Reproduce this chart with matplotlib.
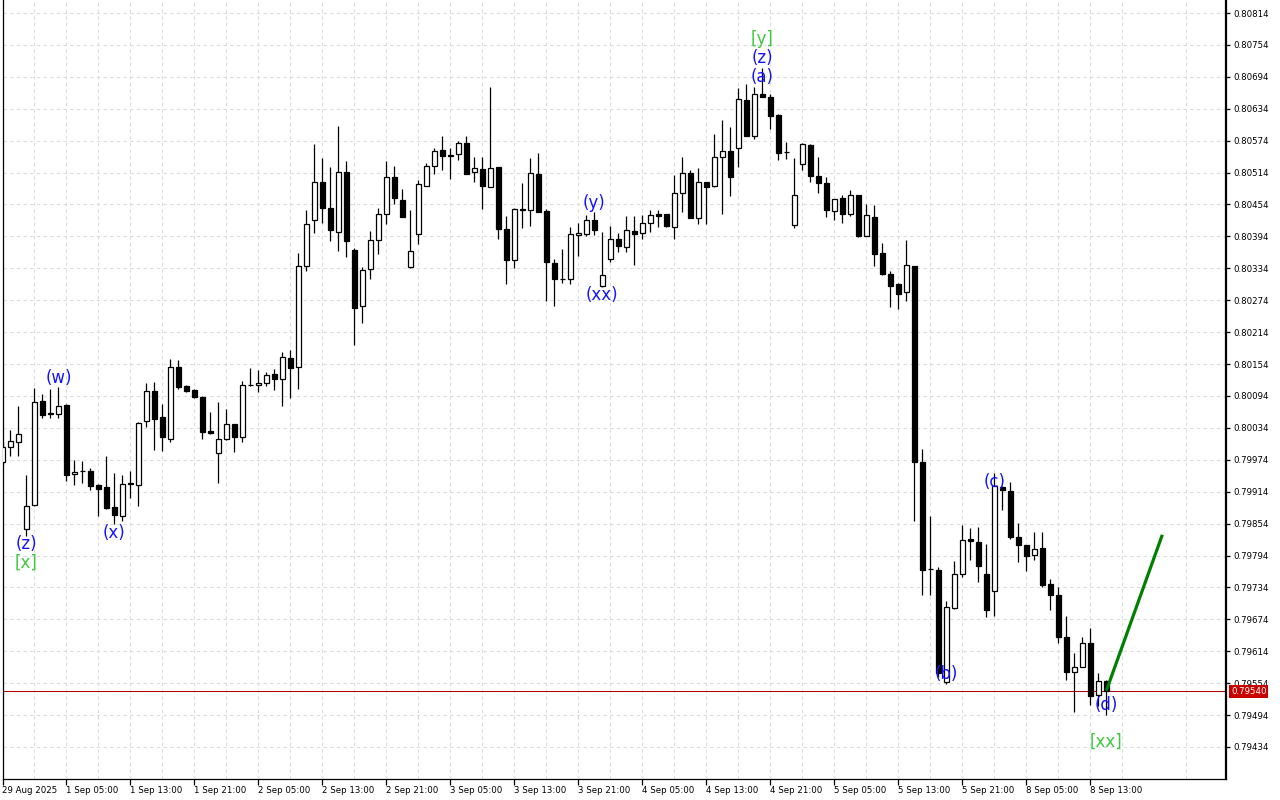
import matplotlib
matplotlib.use("Agg")
import matplotlib.pyplot as plt
import numpy as np

# ---------------- data (H1 candles, 29 Aug 2025 21:00 .. 8 Sep 2025 14:00) ----------------
opens = [0.79970, 0.79998, 0.80007, 0.79844, 0.79889, 0.80085, 0.80062, 0.80061, 0.80077, 0.79947,
         0.79953, 0.79953, 0.79927, 0.79923, 0.79885, 0.79869, 0.79930, 0.79927, 0.80046, 0.80103,
         0.80055, 0.80014, 0.80148, 0.80113, 0.80105, 0.80092, 0.80028, 0.79986, 0.80013, 0.80041,
         0.80016, 0.80114, 0.80114, 0.80118, 0.80135, 0.80125, 0.80165, 0.80148, 0.80338, 0.80424,
         0.80496, 0.80447, 0.80402, 0.80515, 0.80368, 0.80263, 0.80332, 0.80387, 0.80437, 0.80505,
         0.80462, 0.80336, 0.80398, 0.80489, 0.80526, 0.80556, 0.80547, 0.80549, 0.80569, 0.80515,
         0.80521, 0.80487, 0.80524, 0.80407, 0.80349, 0.80445, 0.80444, 0.80511, 0.80442, 0.80344,
         0.80314, 0.80313, 0.80396, 0.80398, 0.80424, 0.80300, 0.80351, 0.80389, 0.80374, 0.80404,
         0.80400, 0.80419, 0.80436, 0.80436, 0.80412, 0.80475, 0.80513, 0.80428, 0.80496, 0.80488,
         0.80543, 0.80555, 0.80561, 0.80650, 0.80583, 0.80661, 0.80656, 0.80622, 0.80553, 0.80415,
         0.80531, 0.80566, 0.80508, 0.80494, 0.80441, 0.80466, 0.80437, 0.80471, 0.80395, 0.80431,
         0.80363, 0.80323, 0.80305, 0.80289, 0.80338, 0.79970, 0.79769, 0.79766, 0.79557, 0.79696,
         0.79759, 0.79825, 0.79820, 0.79759, 0.79727, 0.79923, 0.79915, 0.79829, 0.79813, 0.79795,
         0.79808, 0.79740, 0.79720, 0.79640, 0.79575, 0.79585, 0.79629, 0.79531, 0.79559]
highs = [0.80008, 0.80030, 0.80075, 0.79945, 0.80109, 0.80098, 0.80107, 0.80111, 0.80079, 0.79974,
         0.79972, 0.79959, 0.79928, 0.79981, 0.79949, 0.79945, 0.79953, 0.80045, 0.80118, 0.80120,
         0.80079, 0.80163, 0.80162, 0.80114, 0.80107, 0.80093, 0.80064, 0.80083, 0.80069, 0.80042,
         0.80123, 0.80146, 0.80143, 0.80139, 0.80144, 0.80176, 0.80180, 0.80363, 0.80444, 0.80568,
         0.80541, 0.80525, 0.80602, 0.80536, 0.80373, 0.80336, 0.80404, 0.80447, 0.80536, 0.80526,
         0.80483, 0.80444, 0.80500, 0.80532, 0.80560, 0.80583, 0.80560, 0.80573, 0.80582, 0.80544,
         0.80544, 0.80675, 0.80525, 0.80432, 0.80448, 0.80494, 0.80541, 0.80551, 0.80445, 0.80352,
         0.80370, 0.80412, 0.80419, 0.80434, 0.80440, 0.80402, 0.80414, 0.80400, 0.80433, 0.80432,
         0.80434, 0.80444, 0.80444, 0.80437, 0.80509, 0.80543, 0.80519, 0.80523, 0.80497, 0.80587,
         0.80613, 0.80600, 0.80673, 0.80681, 0.80675, 0.80711, 0.80661, 0.80625, 0.80572, 0.80541,
         0.80570, 0.80567, 0.80543, 0.80505, 0.80465, 0.80472, 0.80481, 0.80472, 0.80455, 0.80453,
         0.80382, 0.80329, 0.80307, 0.80387, 0.80339, 0.79994, 0.79869, 0.79772, 0.79709, 0.79784,
         0.79852, 0.79846, 0.79848, 0.79815, 0.79949, 0.79924, 0.79932, 0.79855, 0.79814, 0.79838,
         0.79838, 0.79750, 0.79734, 0.79680, 0.79611, 0.79641, 0.79658, 0.79574, 0.79560]
lows = [0.79964, 0.79981, 0.79982, 0.79831, 0.79888, 0.80053, 0.80053, 0.80053, 0.79935, 0.79927,
        0.79931, 0.79918, 0.79869, 0.79882, 0.79853, 0.79859, 0.79903, 0.79888, 0.80036, 0.79993,
        0.79991, 0.80008, 0.80108, 0.80102, 0.80090, 0.80014, 0.80022, 0.79931, 0.80012, 0.79988,
        0.80008, 0.80113, 0.80101, 0.80113, 0.80106, 0.80076, 0.80091, 0.80108, 0.80328, 0.80401,
        0.80420, 0.80386, 0.80367, 0.80356, 0.80189, 0.80232, 0.80313, 0.80360, 0.80418, 0.80455,
        0.80430, 0.80335, 0.80380, 0.80488, 0.80512, 0.80519, 0.80502, 0.80537, 0.80511, 0.80496,
        0.80445, 0.80486, 0.80390, 0.80304, 0.80335, 0.80410, 0.80414, 0.80439, 0.80273, 0.80264,
        0.80306, 0.80304, 0.80358, 0.80395, 0.80397, 0.80299, 0.80346, 0.80365, 0.80365, 0.80340,
        0.80389, 0.80403, 0.80411, 0.80412, 0.80390, 0.80440, 0.80428, 0.80418, 0.80418, 0.80487,
        0.80437, 0.80469, 0.80525, 0.80582, 0.80578, 0.80656, 0.80596, 0.80537, 0.80540, 0.80409,
        0.80518, 0.80497, 0.80476, 0.80431, 0.80424, 0.80420, 0.80433, 0.80392, 0.80394, 0.80339,
        0.80321, 0.80262, 0.80258, 0.80273, 0.79858, 0.79719, 0.79719, 0.79566, 0.79553, 0.79694,
        0.79754, 0.79786, 0.79745, 0.79679, 0.79681, 0.79880, 0.79825, 0.79781, 0.79764, 0.79786,
        0.79734, 0.79692, 0.79630, 0.79560, 0.79500, 0.79584, 0.79513, 0.79512, 0.79494]
closes = [0.79998, 0.80009, 0.80022, 0.79888, 0.80083, 0.80059, 0.80061, 0.80076, 0.79946, 0.79951,
          0.79952, 0.79925, 0.79920, 0.79884, 0.79871, 0.79928, 0.79929, 0.80044, 0.80103, 0.80051,
          0.80016, 0.80148, 0.80111, 0.80104, 0.80092, 0.80026, 0.80024, 0.80013, 0.80041, 0.80016,
          0.80114, 0.80115, 0.80118, 0.80133, 0.80125, 0.80167, 0.80147, 0.80338, 0.80417, 0.80496,
          0.80447, 0.80406, 0.80515, 0.80386, 0.80260, 0.80330, 0.80387, 0.80436, 0.80505, 0.80466,
          0.80431, 0.80366, 0.80492, 0.80526, 0.80554, 0.80546, 0.80546, 0.80569, 0.80512, 0.80522,
          0.80489, 0.80522, 0.80407, 0.80349, 0.80445, 0.80444, 0.80513, 0.80440, 0.80345, 0.80313,
          0.80313, 0.80398, 0.80400, 0.80424, 0.80406, 0.80321, 0.80390, 0.80375, 0.80406, 0.80398,
          0.80419, 0.80434, 0.80433, 0.80414, 0.80475, 0.80513, 0.80429, 0.80496, 0.80487, 0.80543,
          0.80555, 0.80505, 0.80652, 0.80583, 0.80661, 0.80657, 0.80621, 0.80551, 0.80552, 0.80472,
          0.80568, 0.80508, 0.80494, 0.80443, 0.80464, 0.80437, 0.80471, 0.80395, 0.80434, 0.80360,
          0.80323, 0.80301, 0.80286, 0.80340, 0.79969, 0.79767, 0.79768, 0.79573, 0.79697, 0.79759,
          0.79823, 0.79821, 0.79775, 0.79692, 0.79925, 0.79917, 0.79828, 0.79813, 0.79794, 0.79806,
          0.79739, 0.79719, 0.79640, 0.79575, 0.79584, 0.79629, 0.79529, 0.79559, 0.79540]

time_labels = ["29 Aug 2025", "1 Sep 05:00", "1 Sep 13:00", "1 Sep 21:00", "2 Sep 05:00",
               "2 Sep 13:00", "2 Sep 21:00", "3 Sep 05:00", "3 Sep 13:00", "3 Sep 21:00",
               "4 Sep 05:00", "4 Sep 13:00", "4 Sep 21:00", "5 Sep 05:00", "5 Sep 13:00",
               "5 Sep 21:00", "8 Sep 05:00", "8 Sep 13:00"]
price_ticks = [0.79434, 0.79494, 0.79554, 0.79614, 0.79674, 0.79734, 0.79794, 0.79854, 0.79914,
               0.79974, 0.80034, 0.80094, 0.80154, 0.80214, 0.80274, 0.80334, 0.80394, 0.80454,
               0.80514, 0.80574, 0.80634, 0.80694, 0.80754, 0.80814]
last_price = 0.79540

wave_texts = ["(z)", "[x]", "(w)", "(x)", "(y)", "(xx)", "[y]", "(z)", "(a)", "(b)", "(c)", "(d)", "[xx]"]
wave_bars = [3, 3, 7, 14, 74, 75, 95, 95, 95, 118, 124, 138, 138]
wave_anchor = ["low", "low", "high", "low", "high", "low", "high", "high", "high", "low", "high", "low", "low"]
wave_kind = ["minor", "major", "minor", "minor", "minor", "minor", "major", "minor", "minor",
             "minor", "minor", "minor", "major"]

proj_bars = [138, 145]
proj_prices = [0.79540, 0.79833]

# ---------------- styling ----------------
label_offsets_px = [-8, -27, 9, -9, 9, -8.5, 29, 10, -9, 10, -9, 10, -27]
BLUE = "#1414ff"
LIME = "#3ec83e"

o = np.array(opens); h = np.array(highs); l = np.array(lows); c = np.array(closes)
x = np.arange(len(o))

fig = plt.figure(figsize=(12.8, 8), dpi=100)
fig.patch.set_facecolor("white")
W, H = 1280, 800
ax = fig.add_axes([2.5 / W, (H - 779) / H, (1226 - 2.5) / W, 779 / H])

px_per_bar = 8.0
x0 = 2.33
ax.set_xlim((2.5 - x0) / px_per_bar, (1226 - x0) / px_per_bar)
pp = 1.88011e-5
ax.set_ylim(0.80814 - (779 - 13) * pp, 0.80814 + 13 * pp)

# wicks
ax.vlines(x, l, h, color="black", linewidth=0.9, zorder=3)
# bodies
bull = c >= o
bottoms = np.minimum(o, c)
heights = np.abs(c - o)
ax.bar(x[bull], heights[bull], bottom=bottoms[bull], width=0.66, facecolor="white",
       edgecolor="black", linewidth=0.9, zorder=4)
ax.bar(x[~bull], heights[~bull], bottom=bottoms[~bull], width=0.66, facecolor="black",
       edgecolor="black", linewidth=0.9, zorder=4)

# price line
ax.axhline(last_price, color="#b40000", linewidth=0.75, zorder=2)

# projection line
ax.plot(proj_bars, proj_prices, color="#008000", linewidth=2.3, zorder=6, solid_capstyle="butt")

# wave labels
for txt, b, anc, kind, off in zip(wave_texts, wave_bars, wave_anchor, wave_kind, label_offsets_px):
    yv = h[b] if anc == "high" else l[b]
    ax.annotate(txt, xy=(b, yv), xytext=(0, off), textcoords="offset pixels",
                ha="center", va="center", fontsize=12,
                color=BLUE if kind == "minor" else LIME, zorder=7)

# axes / grid
ax.set_yticks(price_ticks)
ax.set_yticklabels([f"{p:.5f}" for p in price_ticks])
ax.yaxis.tick_right()
ax.set_xticks(np.arange(0, 8 * len(time_labels), 8))
ax.set_xticklabels(time_labels)
ax.set_xticks(np.arange(4, 153, 8), minor=True)
for lab in ax.get_xticklabels():
    lab.set_horizontalalignment("left")
ax.tick_params(axis="x", which="major", direction="out", length=4, width=0.9, pad=1,
               labelsize=6.2, colors="black")
ax.tick_params(axis="x", which="minor", length=0)
ax.tick_params(axis="y", which="major", direction="out", length=3, width=0.9, pad=2,
               labelsize=6.2, colors="black")
ax.grid(which="both", axis="x", color="#dcdcdc", linestyle=(0, (3, 3)), linewidth=0.8, zorder=0)
ax.grid(which="major", axis="y", color="#dcdcdc", linestyle=(0, (3, 3)), linewidth=0.8, zorder=0)
ax.set_axisbelow(True)

ax.spines["top"].set_visible(False)
ax.spines["left"].set_linewidth(0.9)
ax.spines["bottom"].set_linewidth(0.9)
ax.spines["right"].set_linewidth(1.6)

# current price tag
ax.annotate(f"{last_price:.5f}", xy=(1.0, last_price), xycoords=("axes fraction", "data"),
            xytext=(5, -1), textcoords="offset pixels", ha="left", va="center",
            fontsize=6.2, color="white", zorder=10, annotation_clip=False,
            bbox=dict(boxstyle="square,pad=0.22", facecolor="#c80000", edgecolor="none"))

fig.savefig("out.png", dpi=100, facecolor="white")
